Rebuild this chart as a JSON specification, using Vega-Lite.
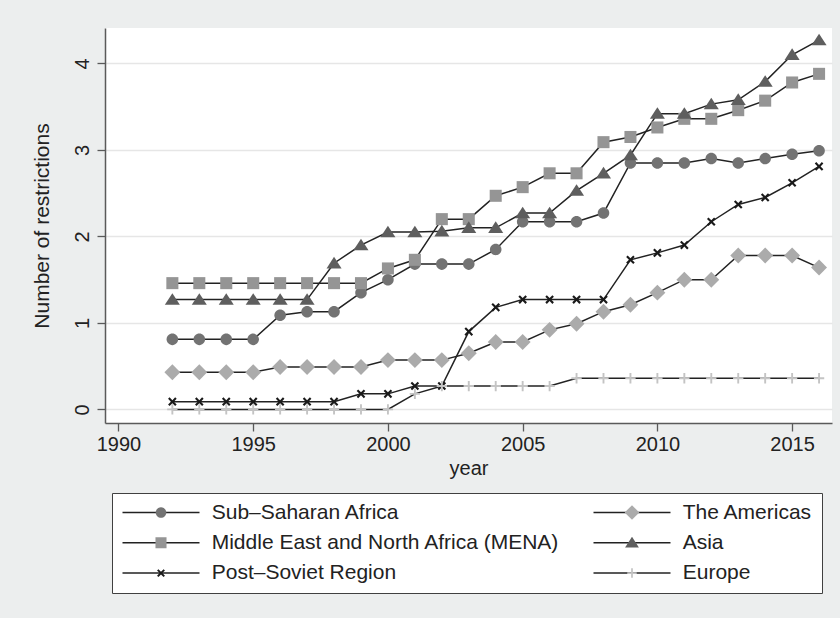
{
  "$schema": "https://vega.github.io/schema/vega-lite/v6.json",
  "width": 727,
  "height": 395,
  "autosize": {"type": "none"},
  "padding": {"left": 105, "top": 28, "right": 8, "bottom": 195},
  "background": "#eceeee",
  "view": {"fill": "white", "stroke": null},
  "config": {
    "font": "Liberation Sans",
    "axis": {
      "domainColor": "#5a5a5a", "domainWidth": 1.5,
      "tickColor": "#5a5a5a", "tickWidth": 1.3, "tickSize": 8,
      "labelFont": "Liberation Sans", "labelFontSize": 20, "labelColor": "#222222",
      "titleFont": "Liberation Sans", "titleFontSize": 20, "titleFontWeight": "normal", "titleColor": "#222222",
      "gridColor": "#e6e6e6", "gridWidth": 1.5
    },
    "legend": {"labelFont": "Liberation Sans", "labelFontSize": 21, "labelColor": "#222222", "labelLimit": 500}
  },
  "data": {
    "values": [
      {"region": "Sub–Saharan Africa", "year": 1992, "value": 0.81},
      {"region": "Sub–Saharan Africa", "year": 1993, "value": 0.81},
      {"region": "Sub–Saharan Africa", "year": 1994, "value": 0.81},
      {"region": "Sub–Saharan Africa", "year": 1995, "value": 0.81},
      {"region": "Sub–Saharan Africa", "year": 1996, "value": 1.09},
      {"region": "Sub–Saharan Africa", "year": 1997, "value": 1.13},
      {"region": "Sub–Saharan Africa", "year": 1998, "value": 1.13},
      {"region": "Sub–Saharan Africa", "year": 1999, "value": 1.35},
      {"region": "Sub–Saharan Africa", "year": 2000, "value": 1.50},
      {"region": "Sub–Saharan Africa", "year": 2001, "value": 1.68},
      {"region": "Sub–Saharan Africa", "year": 2002, "value": 1.68},
      {"region": "Sub–Saharan Africa", "year": 2003, "value": 1.68},
      {"region": "Sub–Saharan Africa", "year": 2004, "value": 1.85},
      {"region": "Sub–Saharan Africa", "year": 2005, "value": 2.17},
      {"region": "Sub–Saharan Africa", "year": 2006, "value": 2.17},
      {"region": "Sub–Saharan Africa", "year": 2007, "value": 2.17},
      {"region": "Sub–Saharan Africa", "year": 2008, "value": 2.27},
      {"region": "Sub–Saharan Africa", "year": 2009, "value": 2.85},
      {"region": "Sub–Saharan Africa", "year": 2010, "value": 2.85},
      {"region": "Sub–Saharan Africa", "year": 2011, "value": 2.85},
      {"region": "Sub–Saharan Africa", "year": 2012, "value": 2.90},
      {"region": "Sub–Saharan Africa", "year": 2013, "value": 2.85},
      {"region": "Sub–Saharan Africa", "year": 2014, "value": 2.90},
      {"region": "Sub–Saharan Africa", "year": 2015, "value": 2.95},
      {"region": "Sub–Saharan Africa", "year": 2016, "value": 2.99},

      {"region": "The Americas", "year": 1992, "value": 0.43},
      {"region": "The Americas", "year": 1993, "value": 0.43},
      {"region": "The Americas", "year": 1994, "value": 0.43},
      {"region": "The Americas", "year": 1995, "value": 0.43},
      {"region": "The Americas", "year": 1996, "value": 0.49},
      {"region": "The Americas", "year": 1997, "value": 0.49},
      {"region": "The Americas", "year": 1998, "value": 0.49},
      {"region": "The Americas", "year": 1999, "value": 0.49},
      {"region": "The Americas", "year": 2000, "value": 0.57},
      {"region": "The Americas", "year": 2001, "value": 0.57},
      {"region": "The Americas", "year": 2002, "value": 0.57},
      {"region": "The Americas", "year": 2003, "value": 0.65},
      {"region": "The Americas", "year": 2004, "value": 0.78},
      {"region": "The Americas", "year": 2005, "value": 0.78},
      {"region": "The Americas", "year": 2006, "value": 0.92},
      {"region": "The Americas", "year": 2007, "value": 0.99},
      {"region": "The Americas", "year": 2008, "value": 1.13},
      {"region": "The Americas", "year": 2009, "value": 1.21},
      {"region": "The Americas", "year": 2010, "value": 1.35},
      {"region": "The Americas", "year": 2011, "value": 1.50},
      {"region": "The Americas", "year": 2012, "value": 1.50},
      {"region": "The Americas", "year": 2013, "value": 1.78},
      {"region": "The Americas", "year": 2014, "value": 1.78},
      {"region": "The Americas", "year": 2015, "value": 1.78},
      {"region": "The Americas", "year": 2016, "value": 1.64},

      {"region": "Middle East and North Africa (MENA)", "year": 1992, "value": 1.46},
      {"region": "Middle East and North Africa (MENA)", "year": 1993, "value": 1.46},
      {"region": "Middle East and North Africa (MENA)", "year": 1994, "value": 1.46},
      {"region": "Middle East and North Africa (MENA)", "year": 1995, "value": 1.46},
      {"region": "Middle East and North Africa (MENA)", "year": 1996, "value": 1.46},
      {"region": "Middle East and North Africa (MENA)", "year": 1997, "value": 1.46},
      {"region": "Middle East and North Africa (MENA)", "year": 1998, "value": 1.46},
      {"region": "Middle East and North Africa (MENA)", "year": 1999, "value": 1.46},
      {"region": "Middle East and North Africa (MENA)", "year": 2000, "value": 1.63},
      {"region": "Middle East and North Africa (MENA)", "year": 2001, "value": 1.73},
      {"region": "Middle East and North Africa (MENA)", "year": 2002, "value": 2.20},
      {"region": "Middle East and North Africa (MENA)", "year": 2003, "value": 2.20},
      {"region": "Middle East and North Africa (MENA)", "year": 2004, "value": 2.47},
      {"region": "Middle East and North Africa (MENA)", "year": 2005, "value": 2.57},
      {"region": "Middle East and North Africa (MENA)", "year": 2006, "value": 2.73},
      {"region": "Middle East and North Africa (MENA)", "year": 2007, "value": 2.73},
      {"region": "Middle East and North Africa (MENA)", "year": 2008, "value": 3.09},
      {"region": "Middle East and North Africa (MENA)", "year": 2009, "value": 3.15},
      {"region": "Middle East and North Africa (MENA)", "year": 2010, "value": 3.26},
      {"region": "Middle East and North Africa (MENA)", "year": 2011, "value": 3.36},
      {"region": "Middle East and North Africa (MENA)", "year": 2012, "value": 3.36},
      {"region": "Middle East and North Africa (MENA)", "year": 2013, "value": 3.46},
      {"region": "Middle East and North Africa (MENA)", "year": 2014, "value": 3.57},
      {"region": "Middle East and North Africa (MENA)", "year": 2015, "value": 3.78},
      {"region": "Middle East and North Africa (MENA)", "year": 2016, "value": 3.88},

      {"region": "Asia", "year": 1992, "value": 1.27},
      {"region": "Asia", "year": 1993, "value": 1.27},
      {"region": "Asia", "year": 1994, "value": 1.27},
      {"region": "Asia", "year": 1995, "value": 1.27},
      {"region": "Asia", "year": 1996, "value": 1.27},
      {"region": "Asia", "year": 1997, "value": 1.27},
      {"region": "Asia", "year": 1998, "value": 1.69},
      {"region": "Asia", "year": 1999, "value": 1.90},
      {"region": "Asia", "year": 2000, "value": 2.05},
      {"region": "Asia", "year": 2001, "value": 2.05},
      {"region": "Asia", "year": 2002, "value": 2.06},
      {"region": "Asia", "year": 2003, "value": 2.10},
      {"region": "Asia", "year": 2004, "value": 2.10},
      {"region": "Asia", "year": 2005, "value": 2.27},
      {"region": "Asia", "year": 2006, "value": 2.27},
      {"region": "Asia", "year": 2007, "value": 2.53},
      {"region": "Asia", "year": 2008, "value": 2.73},
      {"region": "Asia", "year": 2009, "value": 2.94},
      {"region": "Asia", "year": 2010, "value": 3.42},
      {"region": "Asia", "year": 2011, "value": 3.42},
      {"region": "Asia", "year": 2012, "value": 3.53},
      {"region": "Asia", "year": 2013, "value": 3.58},
      {"region": "Asia", "year": 2014, "value": 3.79},
      {"region": "Asia", "year": 2015, "value": 4.10},
      {"region": "Asia", "year": 2016, "value": 4.27},

      {"region": "Post–Soviet Region", "year": 1992, "value": 0.09},
      {"region": "Post–Soviet Region", "year": 1993, "value": 0.09},
      {"region": "Post–Soviet Region", "year": 1994, "value": 0.09},
      {"region": "Post–Soviet Region", "year": 1995, "value": 0.09},
      {"region": "Post–Soviet Region", "year": 1996, "value": 0.09},
      {"region": "Post–Soviet Region", "year": 1997, "value": 0.09},
      {"region": "Post–Soviet Region", "year": 1998, "value": 0.09},
      {"region": "Post–Soviet Region", "year": 1999, "value": 0.18},
      {"region": "Post–Soviet Region", "year": 2000, "value": 0.18},
      {"region": "Post–Soviet Region", "year": 2001, "value": 0.27},
      {"region": "Post–Soviet Region", "year": 2002, "value": 0.27},
      {"region": "Post–Soviet Region", "year": 2003, "value": 0.90},
      {"region": "Post–Soviet Region", "year": 2004, "value": 1.18},
      {"region": "Post–Soviet Region", "year": 2005, "value": 1.27},
      {"region": "Post–Soviet Region", "year": 2006, "value": 1.27},
      {"region": "Post–Soviet Region", "year": 2007, "value": 1.27},
      {"region": "Post–Soviet Region", "year": 2008, "value": 1.27},
      {"region": "Post–Soviet Region", "year": 2009, "value": 1.73},
      {"region": "Post–Soviet Region", "year": 2010, "value": 1.81},
      {"region": "Post–Soviet Region", "year": 2011, "value": 1.90},
      {"region": "Post–Soviet Region", "year": 2012, "value": 2.17},
      {"region": "Post–Soviet Region", "year": 2013, "value": 2.37},
      {"region": "Post–Soviet Region", "year": 2014, "value": 2.45},
      {"region": "Post–Soviet Region", "year": 2015, "value": 2.62},
      {"region": "Post–Soviet Region", "year": 2016, "value": 2.81},

      {"region": "Europe", "year": 1992, "value": 0},
      {"region": "Europe", "year": 1993, "value": 0},
      {"region": "Europe", "year": 1994, "value": 0},
      {"region": "Europe", "year": 1995, "value": 0},
      {"region": "Europe", "year": 1996, "value": 0},
      {"region": "Europe", "year": 1997, "value": 0},
      {"region": "Europe", "year": 1998, "value": 0},
      {"region": "Europe", "year": 1999, "value": 0},
      {"region": "Europe", "year": 2000, "value": 0},
      {"region": "Europe", "year": 2001, "value": 0.18},
      {"region": "Europe", "year": 2002, "value": 0.27},
      {"region": "Europe", "year": 2003, "value": 0.27},
      {"region": "Europe", "year": 2004, "value": 0.27},
      {"region": "Europe", "year": 2005, "value": 0.27},
      {"region": "Europe", "year": 2006, "value": 0.27},
      {"region": "Europe", "year": 2007, "value": 0.36},
      {"region": "Europe", "year": 2008, "value": 0.36},
      {"region": "Europe", "year": 2009, "value": 0.36},
      {"region": "Europe", "year": 2010, "value": 0.36},
      {"region": "Europe", "year": 2011, "value": 0.36},
      {"region": "Europe", "year": 2012, "value": 0.36},
      {"region": "Europe", "year": 2013, "value": 0.36},
      {"region": "Europe", "year": 2014, "value": 0.36},
      {"region": "Europe", "year": 2015, "value": 0.36},
      {"region": "Europe", "year": 2016, "value": 0.36}
    ]
  },
  "encoding": {
    "x": {
      "field": "year", "type": "quantitative",
      "scale": {"domain": [1989.5, 2016.48], "nice": false, "zero": false},
      "axis": {"values": [1990, 1995, 2000, 2005, 2010, 2015], "format": "d", "grid": false, "title": "year", "labelPadding": 3, "titlePadding": 4}
    },
    "y": {
      "field": "value", "type": "quantitative",
      "scale": {"domain": [-0.157, 4.41], "nice": false, "zero": false},
      "axis": {"values": [0, 1, 2, 3, 4], "grid": true, "title": "Number of restrictions", "titleFontSize": 21, "labelAngle": -90, "labelAlign": "center", "labelBaseline": "alphabetic", "labelPadding": 9, "titlePadding": 20}
    }
  },
  "layer": [
    {
      "mark": {"type": "line", "strokeWidth": 1.5},
      "encoding": {
        "stroke": {
          "field": "region", "type": "nominal",
          "sort": ["Sub–Saharan Africa", "The Americas", "Middle East and North Africa (MENA)", "Asia", "Post–Soviet Region", "Europe"],
          "scale": {"range": ["#222222", "#222222", "#222222", "#222222", "#222222", "#222222"]},
          "legend": {
            "title": null, "orient": "none", "legendX": 7, "legendY": 465,
            "direction": "horizontal", "columns": 2, "columnPadding": 33, "rowPadding": 9.3,
            "clipHeight": 20, "padding": 9.5,
            "symbolType": "stroke", "symbolSize": 5929, "symbolStrokeWidth": 1.5,
            "labelOffset": 11.2,
            "fillColor": "white", "strokeColor": "#404040",
            "zindex": 0
          }
        }
      }
    },
    {
      "mark": {"type": "point", "filled": true, "size": 7400, "strokeWidth": 0, "opacity": 1},
      "encoding": {
        "shape": {
          "field": "region", "type": "nominal",
          "scale": {
            "domain": ["Sub–Saharan Africa", "The Americas", "Middle East and North Africa (MENA)", "Asia", "Post–Soviet Region", "Europe"],
            "range": [
              "M-0.134,0A0.134,0.134,0,1,0,0.134,0A0.134,0.134,0,1,0,-0.134,0Z",
              "M0,-0.185L0.185,0L0,0.185L-0.185,0Z",
              "M-0.14,-0.14H0.14V0.14H-0.14Z",
              "M0,-0.15L0.175,0.12L-0.175,0.12Z",
              "M-0.1,-0.065L-0.065,-0.1L0,-0.035L0.065,-0.1L0.1,-0.065L0.035,0L0.1,0.065L0.065,0.1L0,0.035L-0.065,0.1L-0.1,0.065L-0.035,0Z",
              "M-0.022,-0.12H0.022V-0.022H0.12V0.022H0.022V0.12H-0.022V0.022H-0.12V-0.022H-0.022Z"
            ]
          },
          "legend": {
            "title": null, "orient": "none", "legendX": 7, "legendY": 465,
            "direction": "horizontal", "columns": 2, "columnPadding": 33, "rowPadding": 9.3,
            "clipHeight": 20, "padding": 9.5,
            "symbolSize": 6241, "symbolStrokeWidth": 0,
            "labelOffset": 11.2, "labelOpacity": 0,
            "zindex": 1
          }
        },
        "fill": {
          "field": "region", "type": "nominal",
          "scale": {
            "domain": ["Sub–Saharan Africa", "The Americas", "Middle East and North Africa (MENA)", "Asia", "Post–Soviet Region", "Europe"],
            "range": ["#737373", "#ababab", "#959595", "#5e5e5e", "#1a1a1a", "#c4c4c4"]
          },
          "legend": {
            "title": null, "orient": "none", "legendX": 7, "legendY": 465,
            "direction": "horizontal", "columns": 2, "columnPadding": 33, "rowPadding": 9.3,
            "clipHeight": 20, "padding": 9.5,
            "symbolSize": 6241, "symbolStrokeWidth": 0,
            "labelOffset": 11.2, "labelOpacity": 0,
            "zindex": 1
          }
        }
      }
    }
  ]
}
